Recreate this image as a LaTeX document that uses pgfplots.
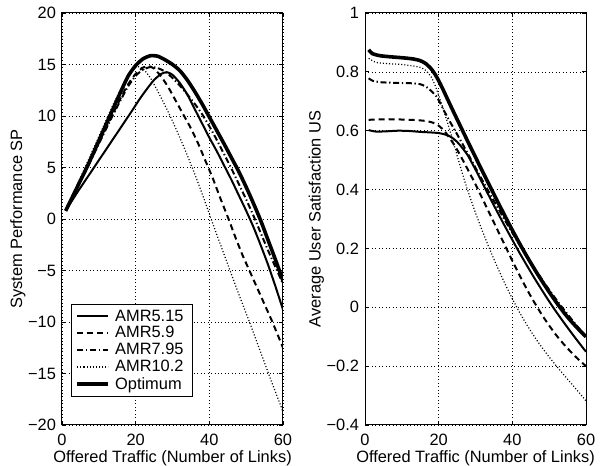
\documentclass[border=0pt]{standalone}
\usepackage{fontspec}
\setmainfont{Liberation Sans}
\usepackage{pgfplots}
\pgfplotsset{compat=1.18}

\pgfplotsset{
  matlab/.style={
    scale only axis,
    width=165.75pt, height=309pt,
    font=\fontsize{12.3}{14}\selectfont,
    axis line style={line width=0.75pt},
    every tick/.style={black, line width=0.6pt},
    major tick length=3pt,
    tick align=inside,
    grid=major,
    grid style={black, line width=0.5pt, dash pattern=on 0.6pt off 2pt},
    xmin=0, xmax=60, xtick={0,20,40,60}, xticklabels={0,20,40,60},
    xlabel={Offered Traffic (Number of Links)},
    xticklabel style={yshift=-3pt},
    xlabel style={yshift=3pt},
    ylabel style={yshift=-5pt},
    yticklabel style={xshift=-1pt},
  },
  amr515/.style={black, line width=1.5pt, smooth, tension=0.4},
  amr59/.style={black, line width=1.5pt, smooth, tension=0.4, dash pattern=on 4.5pt off 3pt},
  amr795/.style={black, line width=1.5pt, smooth, tension=0.4, dash pattern=on 4.5pt off 2pt on 1pt off 2pt},
  amr102/.style={black, line width=0.9pt, smooth, tension=0.4, dash pattern=on 0.8pt off 1.5pt},
  optimum/.style={black, line width=2.7pt, smooth, tension=0.4},
}

\begin{document}
\begin{tikzpicture}
% left: system performance
\begin{axis}[matlab,
  at={(0pt,0pt)}, anchor=south west,
  ymin=-20, ymax=20,
  ytick={-20,-15,-10,-5,0,5,10,15,20},
  yticklabels={−20,−15,−10,−5,0,5,10,15,20},
  ylabel={System Performance SP},
  legend style={at={(axis description cs:0.041,0.068)}, anchor=south west,
    draw=black, line width=0.75pt, font=\fontsize{12.3}{14}\selectfont,
    inner xsep=3pt, inner ysep=2pt, row sep=-1.4pt, cells={anchor=west},
    nodes={inner xsep=4pt}},
  legend image code/.code={\draw[#1, sharp plot] (0pt,0pt) -- (23pt,0pt);},
]
\addplot[amr515] coordinates {
 (1,0.8) (4,2.5) (7,4.1) (10,5.7) (13,7.3) (16,8.9) (19,10.5) (21,11.6) (23,12.6)
 (25,13.5) (27,14.1) (28.5,14.25) (30,14.0) (32,13.2) (34,12.1) (36,10.7) (38,9.3)
 (40,7.9) (42,6.6) (44,5.2) (46,3.8) (48,2.3) (50,0.8) (52,-0.8) (54,-2.6)
 (56,-4.5) (58,-6.6) (60,-8.8)};
\addlegendentry{AMR5.15}
\addplot[amr59] coordinates {
 (1,0.8) (4,3.0) (7,5.1) (10,7.4) (13,9.6) (16,11.8) (18,13.1) (20,14.1) (22,14.7)
 (23.5,14.85) (25,14.6) (27,13.8) (29,12.7) (31,11.4) (33,10.1) (35,8.8) (37,7.3)
 (39,5.6) (41,3.9) (43,2.0) (45,0.2) (47,-1.7) (49,-3.5) (51,-5.1) (53,-6.7)
 (55,-8.3) (57,-9.9) (60,-12.5)};
\addlegendentry{AMR5.9}
\addplot[amr795] coordinates {
 (1,0.8) (4,3.0) (7,5.1) (10,7.3) (13,9.5) (16,11.6) (18,12.9) (20,13.9) (22,14.5)
 (24,14.75) (26,14.65) (28,14.3) (30,13.7) (32,12.95) (34,12.1) (36,11.2) (38,10.2)
 (40,9.0) (42,7.7) (44,6.3) (46,4.9) (48,3.4) (50,1.9) (52,0.3) (54,-1.4)
 (56,-3.1) (58,-4.7) (60,-6.3)};
\addlegendentry{AMR7.95}
\addplot[amr102] coordinates {
 (1,0.8) (5,4.0) (10,8.0) (14,11.2) (17,13.3) (19,14.4) (20.5,14.8) (22,14.6)
 (24,13.7) (26,12.4) (28,11.0) (30,9.5) (32,7.9) (34,6.2) (36,4.4) (38,2.5)
 (40,0.5) (42,-1.5) (45,-4.4) (48,-7.3) (51,-10.1) (54,-13.0) (57,-15.9) (60,-18.7)};
\addlegendentry{AMR10.2}
\addplot[optimum] coordinates {
 (1,0.8) (4,3.0) (7,5.2) (10,7.6) (13,10.0) (16,12.4) (18,13.9) (20,14.9) (22,15.55)
 (24,15.85) (26,15.8) (28,15.45) (30,15.0) (32,14.4) (34,13.5) (36,12.4) (38,11.2)
 (40,9.9) (42,8.6) (44,7.3) (46,5.95) (48,4.6) (50,3.1) (52,1.5) (54,-0.2)
 (56,-2.1) (58,-4.0) (60,-6.0)};
\addlegendentry{Optimum}
\end{axis}

% right: average user satisfaction
\begin{axis}[matlab,
  at={(227.25pt,0pt)}, anchor=south west,
  ymin=-0.4, ymax=1,
  ytick={-0.4,-0.2,0,0.2,0.4,0.6,0.8,1},
  yticklabels={−0.4,−0.2,0,0.2,0.4,0.6,0.8,1},
  ylabel={Average User Satisfaction US},
]
\addplot[amr515] coordinates {
 (1,0.602) (3,0.597) (6,0.598) (9,0.6) (12,0.599) (15,0.596) (18,0.594) (20,0.592)
 (21.5,0.588) (23,0.581) (24,0.573) (25,0.562) (26,0.548) (27,0.532) (28,0.514)
 (30,0.468) (32,0.419) (34,0.37) (36,0.322) (38,0.275) (40,0.229) (42,0.184)
 (44,0.141) (46,0.099) (48,0.059) (50,0.02) (52,-0.017) (54,-0.052) (56,-0.086)
 (58,-0.119) (60,-0.151)};
\addplot[amr59] coordinates {
 (1,0.637) (3,0.638) (6,0.639) (10,0.638) (14,0.636) (16.5,0.633) (18.5,0.627)
 (20,0.617) (21.5,0.6) (23,0.575) (24.5,0.546) (26,0.513) (28,0.466) (30,0.418)
 (32,0.366) (34,0.314) (36,0.262) (38,0.21) (40,0.158) (42,0.108) (44,0.06)
 (46,0.016) (48,-0.025) (50,-0.062) (52,-0.096) (54,-0.126) (56,-0.153)
 (58,-0.178) (60,-0.2)};
\addplot[amr795] coordinates {
 (1,0.778) (2,0.77) (4,0.765) (7,0.763) (10,0.762) (13,0.761) (15,0.758)
 (16.5,0.75) (18,0.735) (19.4,0.716) (20.5,0.692) (21.5,0.667) (23,0.632)
 (25,0.588) (27,0.543) (29,0.497) (31,0.451) (33,0.406) (35,0.361) (37,0.317)
 (39,0.274) (41,0.232) (43,0.191) (45,0.152) (47,0.114) (49,0.077) (51,0.042)
 (53,0.008) (55,-0.024) (57,-0.055) (59,-0.085) (60,-0.1)};
\addplot[amr102] coordinates {
 (1,0.846) (3,0.832) (6,0.828) (10,0.825) (13,0.82) (15,0.815) (16.5,0.805)
 (18,0.782) (19,0.755) (20,0.72) (21,0.683) (22,0.643) (23,0.603) (24,0.56)
 (25,0.516) (26,0.473) (27,0.432) (28,0.393) (30,0.321) (32,0.255) (34,0.193)
 (36,0.135) (38,0.08) (40,0.029) (42,-0.018) (44,-0.061) (46,-0.1) (48,-0.136)
 (50,-0.169) (52,-0.2) (54,-0.23) (56,-0.259) (58,-0.288) (60,-0.318)};
\addplot[optimum] coordinates {
 (1,0.875) (2,0.862) (4,0.855) (7,0.851) (10,0.848) (13,0.844) (15,0.838)
 (16.5,0.828) (18,0.81) (19,0.792) (20,0.77) (21,0.745) (22,0.718) (24,0.665)
 (26,0.613) (28,0.561) (30,0.51) (32,0.459) (34,0.409) (36,0.359) (38,0.31)
 (40,0.262) (42,0.216) (44,0.172) (46,0.13) (48,0.09) (50,0.052) (52,0.016)
 (54,-0.018) (56,-0.048) (58,-0.075) (60,-0.1)};
\end{axis}

\pgfresetboundingbox
\useasboundingbox (-46.5pt,-30.75pt) rectangle (408pt,318.75pt);
\end{tikzpicture}
\end{document}
